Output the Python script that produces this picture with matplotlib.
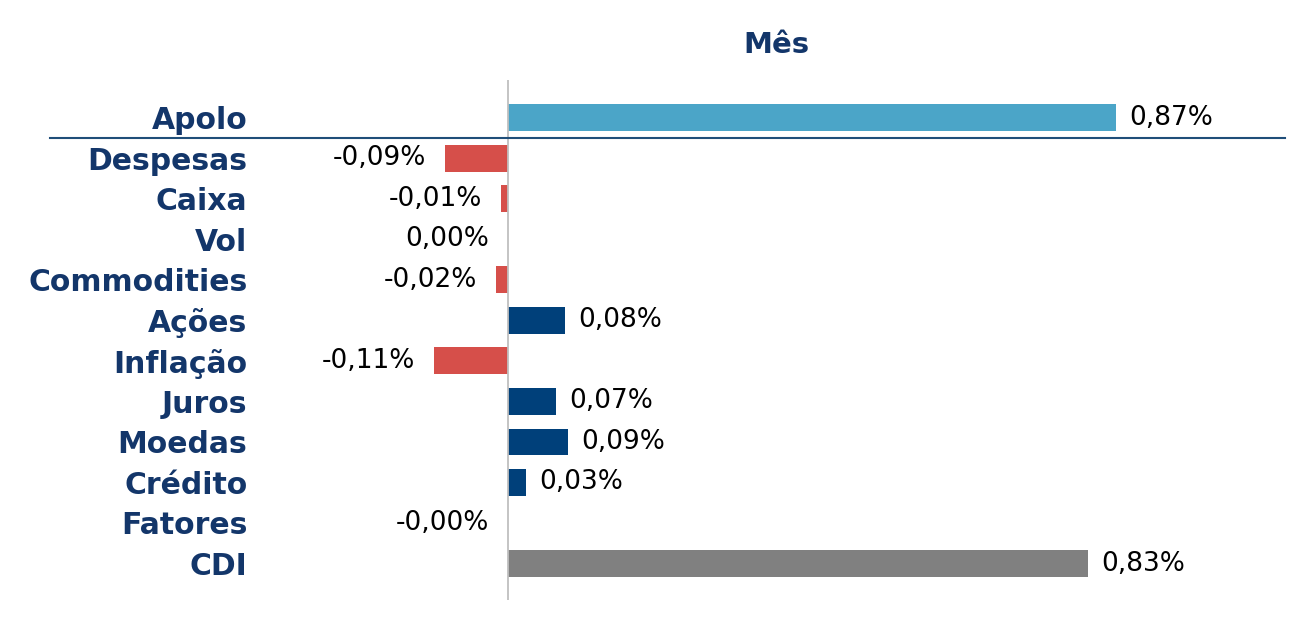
import matplotlib.pyplot as plt

# Data
categories = ["Apolo", "Despesas", "Caixa", "Vol", "Commodities", "Ações",
              "Inflação", "Juros", "Moedas", "Crédito", "Fatores", "CDI"]
values = [0.87, -0.09, -0.01, 0.0, -0.017, 0.082,
          -0.106, 0.069, 0.086, 0.026, -0.0001, 0.83]
title = "Mês"

navy = "#13366A"
colors = []
for cat, v in zip(categories, values):
    if cat == "Apolo":
        colors.append("#4BA5C8")
    elif cat == "CDI":
        colors.append("#808080")
    elif v < 0:
        colors.append("#D64F4A")
    else:
        colors.append("#00407A")

fig = plt.figure(figsize=(13.16, 6.31), dpi=100)
ax = fig.add_axes([260 / 1316, 1 - 600 / 631, (1290 - 260) / 1316, (600 - 80) / 631])

pos = list(range(len(categories)))
ax.barh(pos, values, height=0.66, color=colors)

ax.set_ylim(11.9, -0.93)
ax.set_xlim(-0.3548, 1.1189)

# value labels
for y, v in zip(pos, values):
    lbl = f"{v:.2f}%".replace(".", ",")
    if v > 0:
        ax.annotate(lbl, (v, y), xytext=(13, 0), textcoords="offset pixels",
                    ha="left", va="center", fontsize=19, color="black")
    else:
        ax.annotate(lbl, (v, y), xytext=(-19, 0), textcoords="offset pixels",
                    ha="right", va="center", fontsize=19, color="black")

# category labels
ax.set_yticks(pos)
ax.set_yticklabels(categories, fontsize=21.5, fontweight="bold", color=navy)
ax.tick_params(axis="y", length=0, pad=9)
ax.set_xticks([])

for s in ax.spines.values():
    s.set_visible(False)

ax.axvline(0, color="#BFBFBF", linewidth=1.3)

# separator under Apolo
ax.plot([-0.655, 1.112], [0.5, 0.5], color="#1F4E79", linewidth=1.5, clip_on=False)

fig.text(776 / 1316, 1 - 45 / 631, title, ha="center", va="center",
         fontsize=21, fontweight="bold", color=navy)

fig.savefig("out.png", dpi=100)
